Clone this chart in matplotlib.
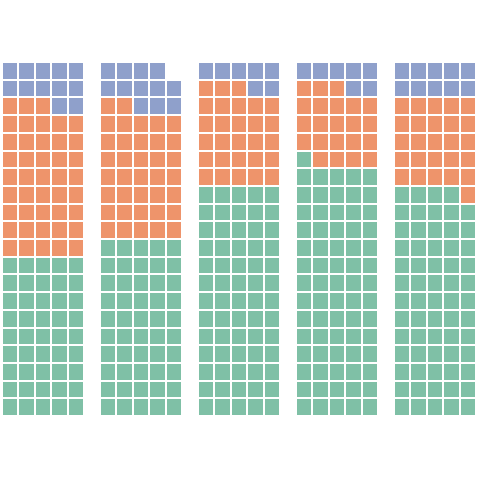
import numpy as np
import matplotlib
matplotlib.use("Agg")
import matplotlib.pyplot as plt
from matplotlib.colors import ListedColormap

# tile counts per waffle column (bottom to top: green, orange, blue)
green = [45, 50, 65, 71, 64]
orange = [43, 37, 28, 22, 26]
blue = [12, 12, 7, 7, 10]

colors = ["#7fc0a6", "#ee946b", "#8fa0cb"]
n_rows, n_cols = 20, 5

fig = plt.figure(figsize=(4.8, 4.8), dpi=100)
cmap = ListedColormap(colors)

for i in range(len(green)):
    ax = fig.add_axes([(2 + 98 * i) / 480, 64 / 480, 82 / 480, 354 / 480])
    cells = [0] * green[i] + [1] * orange[i] + [2] * blue[i]
    grid = np.full(n_rows * n_cols, np.nan)
    grid[:len(cells)] = cells
    grid = np.ma.masked_invalid(grid.reshape(n_rows, n_cols))
    ax.pcolormesh(grid, cmap=cmap, vmin=-0.5, vmax=2.5,
                  edgecolors="white", linewidth=1.1)
    ax.set_xlim(0, n_cols)
    ax.set_ylim(0, n_rows)
    ax.axis("off")

fig.savefig("out.png", dpi=100)
